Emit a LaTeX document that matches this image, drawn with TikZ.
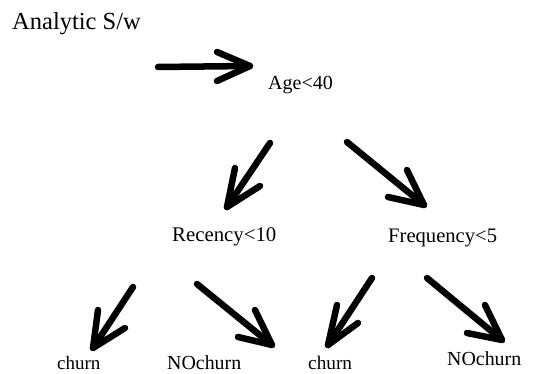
\documentclass[tikz,border=0pt]{standalone}
\usepackage{fontspec}
\setmainfont{Liberation Serif}
\begin{document}
\begin{tikzpicture}[x=1pt,y=-1pt,
  lbl/.style={anchor=base west,inner sep=0pt,font=\fontsize{#1}{#1}\selectfont},
  stroke/.style={line width=6.5pt,line cap=round,line join=round,black}]
\useasboundingbox (0,0) rectangle (539,374);
% texts
\node[lbl=24.5] (title) at (12,30) {Analytic S/w};
\node[lbl=20] (age) at (268,90) {Age<40};
\node[lbl=20.8] (rec) at (172,242) {Recency<10};
\node[lbl=20.6] (freq) at (388,243) {Frequency<5};
\node[lbl=19] (c1) at (57,370) {churn};
\node[lbl=19.9] (n1) at (167,370) {NOchurn};
\node[lbl=19.3] (c2) at (308,370) {churn};
\node[lbl=19.9] (n2) at (447,366) {NOchurn};
% arrow 0 (to Age)
\coordinate (s0) at (158,67); \coordinate (t0) at (250,66);
\coordinate (a0) at (217,52); \coordinate (b0) at (217,81);
% arrow to Recency
\coordinate (s1) at (270,143); \coordinate (t1) at (227,207);
\coordinate (a1) at (235,168); \coordinate (b1) at (260,186);
% arrow to Frequency
\coordinate (s2) at (347,142); \coordinate (t2) at (424,205);
\coordinate (a2) at (388,197); \coordinate (b2) at (407,170);
% bottom arrows
\coordinate (s3) at (133,287); \coordinate (t3) at (93,348);
\coordinate (a3) at (98,310); \coordinate (b3) at (125,328);
\coordinate (s4) at (197,284); \coordinate (t4) at (272,345);
\coordinate (a4) at (238,337); \coordinate (b4) at (255,310);
\coordinate (s5) at (372,278); \coordinate (t5) at (328,345);
\coordinate (a5) at (337,305); \coordinate (b5) at (358,323);
\coordinate (s6) at (427,278); \coordinate (t6) at (502,340);
\coordinate (a6) at (467,333); \coordinate (b6) at (485,305);
\foreach \i in {0,...,6}{
  \draw[stroke] (s\i) -- (t\i);
  \draw[stroke] (a\i) -- (t\i) -- (b\i);
}
\end{tikzpicture}
\end{document}
